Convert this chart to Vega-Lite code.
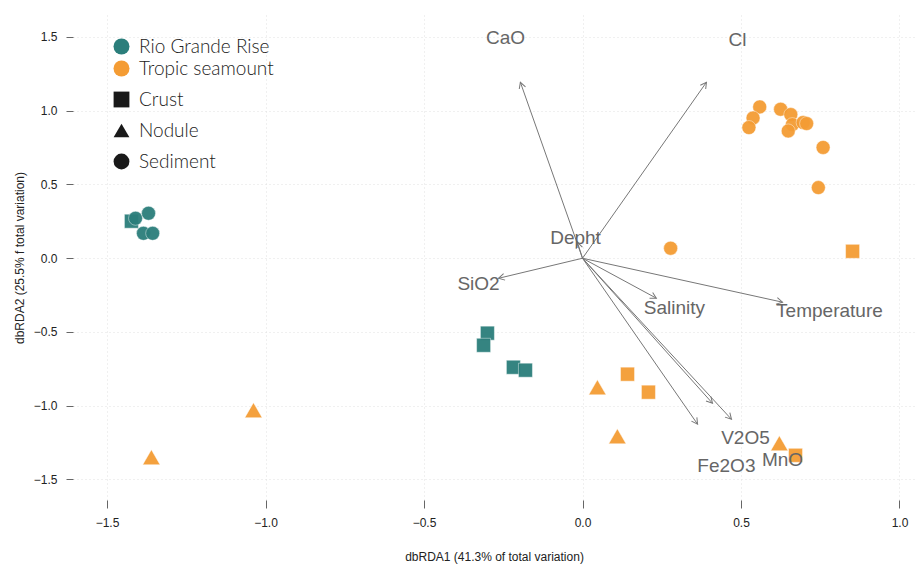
{
  "$schema": "https://vega.github.io/schema/vega-lite/v6.json",
  "autosize": "none",
  "width": 842,
  "height": 485,
  "padding": {"left": 73, "top": 15, "right": 6, "bottom": 66},
  "background": "white",
  "datasets": {
    "pts": [
      {"site": "Rio Grande Rise", "type": "Crust", "x": -1.423, "y": 0.251},
      {"site": "Rio Grande Rise", "type": "Sediment", "x": -1.410, "y": 0.271},
      {"site": "Rio Grande Rise", "type": "Sediment", "x": -1.369, "y": 0.305},
      {"site": "Rio Grande Rise", "type": "Sediment", "x": -1.385, "y": 0.169},
      {"site": "Rio Grande Rise", "type": "Sediment", "x": -1.356, "y": 0.169},
      {"site": "Rio Grande Rise", "type": "Crust", "x": -0.300, "y": -0.508},
      {"site": "Rio Grande Rise", "type": "Crust", "x": -0.312, "y": -0.590},
      {"site": "Rio Grande Rise", "type": "Crust", "x": -0.218, "y": -0.739},
      {"site": "Rio Grande Rise", "type": "Crust", "x": -0.180, "y": -0.759},
      {"site": "Tropic seamount", "type": "Nodule", "x": -1.038, "y": -1.030},
      {"site": "Tropic seamount", "type": "Nodule", "x": -1.360, "y": -1.349},
      {"site": "Tropic seamount", "type": "Nodule", "x": 0.047, "y": -0.875},
      {"site": "Tropic seamount", "type": "Nodule", "x": 0.110, "y": -1.207},
      {"site": "Tropic seamount", "type": "Nodule", "x": 0.621, "y": -1.254},
      {"site": "Tropic seamount", "type": "Crust", "x": 0.142, "y": -0.786},
      {"site": "Tropic seamount", "type": "Crust", "x": 0.208, "y": -0.908},
      {"site": "Tropic seamount", "type": "Crust", "x": 0.672, "y": -1.336},
      {"site": "Tropic seamount", "type": "Crust", "x": 0.852, "y": 0.047},
      {"site": "Tropic seamount", "type": "Sediment", "x": 0.278, "y": 0.068},
      {"site": "Tropic seamount", "type": "Sediment", "x": 0.559, "y": 1.026},
      {"site": "Tropic seamount", "type": "Sediment", "x": 0.538, "y": 0.951},
      {"site": "Tropic seamount", "type": "Sediment", "x": 0.525, "y": 0.886},
      {"site": "Tropic seamount", "type": "Sediment", "x": 0.625, "y": 1.010},
      {"site": "Tropic seamount", "type": "Sediment", "x": 0.657, "y": 0.974},
      {"site": "Tropic seamount", "type": "Sediment", "x": 0.662, "y": 0.906},
      {"site": "Tropic seamount", "type": "Sediment", "x": 0.649, "y": 0.863},
      {"site": "Tropic seamount", "type": "Sediment", "x": 0.696, "y": 0.920},
      {"site": "Tropic seamount", "type": "Sediment", "x": 0.707, "y": 0.913},
      {"site": "Tropic seamount", "type": "Sediment", "x": 0.759, "y": 0.751},
      {"site": "Tropic seamount", "type": "Sediment", "x": 0.744, "y": 0.479}
    ],
    "vecs": [
      {"var": "CaO", "x": -0.196, "y": 1.193, "lx": -0.243, "ly": 1.492},
      {"var": "Cl", "x": 0.391, "y": 1.193, "lx": 0.489, "ly": 1.478},
      {"var": "Depht", "x": -0.016, "y": 0.108, "lx": -0.022, "ly": 0.136},
      {"var": "SiO2", "x": -0.265, "y": -0.136, "lx": -0.328, "ly": -0.176},
      {"var": "Salinity", "x": 0.233, "y": -0.271, "lx": 0.290, "ly": -0.339},
      {"var": "Temperature", "x": 0.631, "y": -0.298, "lx": 0.779, "ly": -0.359},
      {"var": "Fe2O3", "x": 0.363, "y": -1.125, "lx": 0.454, "ly": -1.410},
      {"var": "V2O5", "x": 0.410, "y": -0.983, "lx": 0.514, "ly": -1.220},
      {"var": "MnO", "x": 0.470, "y": -1.092, "lx": 0.631, "ly": -1.369}
    ]
  },
  "layer": [
    {
      "data": {"name": "pts"},
      "transform": [{"filter": "datum.type != 'Nodule'"}],
      "mark": {"type": "point", "filled": true, "opacity": 0.95, "stroke": "white", "strokeOpacity": 0.45, "strokeWidth": 1, "size": 196},
      "encoding": {
        "x": {"field": "x", "type": "quantitative", "title": "dbRDA1 (41.3% of total variation)",
          "scale": {"domain": [-1.6073, 1.0489], "nice": false, "zero": false},
          "axis": {"values": [-1.5, -1, -0.5, 0, 0.5, 1], "format": ".1f"}},
        "y": {"field": "y", "type": "quantitative", "title": "dbRDA2 (25.5% f total variation)",
          "scale": {"domain": [-1.639, 1.649], "nice": false, "zero": false},
          "axis": {"values": [-1.5, -1, -0.5, 0, 0.5, 1, 1.5], "format": ".1f"}},
        "color": {"field": "site", "type": "nominal",
          "scale": {"domain": ["Rio Grande Rise", "Tropic seamount"], "range": ["#2B7E7B", "#F49C34"]},
          "legend": {"orient": "none", "legendX": 39, "legendY": 22, "title": null, "symbolType": "circle", "symbolSize": 256,
            "symbolStrokeWidth": 0, "symbolOpacity": 1, "labelFont": "Lato", "labelFontWeight": 300, "labelFontSize": 19, "labelColor": "#222",
            "rowPadding": 2, "labelOffset": 8, "padding": 0}},
        "shape": {"field": "type", "type": "nominal",
          "scale": {"domain": ["Crust", "Nodule", "Sediment"], "range": ["square", "triangle-up", "circle"]},
          "legend": {"orient": "none", "legendX": 39, "legendY": 75, "title": null, "symbolSize": 250,
            "symbolFillColor": "black", "symbolStrokeColor": "black", "symbolStrokeWidth": 0, "symbolOpacity": 1,
            "labelFont": "Lato", "labelFontWeight": 300, "labelFontSize": 19, "labelColor": "#222",
            "rowPadding": 11, "labelOffset": 8, "padding": 0}}
      }
    },
    {
      "data": {"name": "pts"},
      "transform": [{"filter": "datum.type == 'Nodule'"}],
      "mark": {"type": "point", "filled": true, "opacity": 0.95, "stroke": "white", "strokeOpacity": 0.45, "strokeWidth": 1, "size": 300},
      "encoding": {
        "x": {"field": "x", "type": "quantitative", "title": "dbRDA1 (41.3% of total variation)"},
        "y": {"field": "y", "type": "quantitative", "title": "dbRDA2 (25.5% f total variation)"},
        "color": {"field": "site", "type": "nominal"},
        "shape": {"field": "type", "type": "nominal"}
      }
    },
    {
      "mark": {"type": "rule", "color": "#333", "strokeDash": [4, 3], "strokeWidth": 1},
      "encoding": {"x": {"datum": 0}}
    },
    {
      "mark": {"type": "rule", "color": "#333", "strokeDash": [4, 3], "strokeWidth": 1},
      "encoding": {"y": {"datum": 0}}
    },
    {
      "mark": {"type": "rule", "color": "#888", "strokeWidth": 1.5},
      "encoding": {"x": {"datum": -1.5}, "x2": {"datum": 1.0}, "y": {"datum": -1.639}}
    },
    {
      "mark": {"type": "rule", "color": "#888", "strokeWidth": 1.5},
      "encoding": {"y": {"datum": -1.5}, "y2": {"datum": 1.5}, "x": {"datum": -1.6073}}
    },
    {
      "data": {"name": "vecs"},
      "mark": {"type": "rule", "color": "#777", "strokeWidth": 1},
      "encoding": {
        "x": {"field": "x", "type": "quantitative", "title": "dbRDA1 (41.3% of total variation)"},
        "y": {"field": "y", "type": "quantitative", "title": "dbRDA2 (25.5% f total variation)"},
        "x2": {"datum": 0},
        "y2": {"datum": 0}
      }
    },
    {
      "data": {"name": "vecs"},
      "transform": [{"calculate": "(atan2(datum.x * 317, datum.y * 147.5) * 180 / PI + 360) % 360", "as": "ang"}],
      "mark": {"type": "point", "shape": "M-0.55,1L0,0L0.55,1", "filled": false, "stroke": "#777", "strokeWidth": 1, "size": 144, "opacity": 1},
      "encoding": {
        "x": {"field": "x", "type": "quantitative", "title": "dbRDA1 (41.3% of total variation)"},
        "y": {"field": "y", "type": "quantitative", "title": "dbRDA2 (25.5% f total variation)"},
        "angle": {"field": "ang", "type": "quantitative", "scale": null}
      }
    },
    {
      "data": {"name": "vecs"},
      "mark": {"type": "text", "font": "Liberation Sans", "fontSize": 19, "color": "#666", "align": "center", "baseline": "middle"},
      "encoding": {
        "x": {"field": "lx", "type": "quantitative", "title": "dbRDA1 (41.3% of total variation)"},
        "y": {"field": "ly", "type": "quantitative", "title": "dbRDA2 (25.5% f total variation)"},
        "text": {"field": "var"}
      }
    }
  ],
  "config": {
    "view": {"stroke": null},
    "axisX": {
      "domain": false, "tickColor": "#666", "tickSize": 8, "tickWidth": 1,
      "labelFont": "Liberation Sans", "labelFontSize": 12, "labelColor": "#222", "labelPadding": 9,
      "grid": true, "gridColor": "#e0e0e0", "gridDash": [1, 3],
      "titleFont": "Liberation Sans", "titleFontSize": 12, "titleFontWeight": "normal", "titleColor": "#222", "titlePadding": 23
    },
    "axisY": {
      "domain": false, "tickColor": "#666", "tickSize": 7, "tickWidth": 1,
      "labelFont": "Liberation Sans", "labelFontSize": 12, "labelColor": "#222", "labelPadding": 9,
      "grid": true, "gridColor": "#e0e0e0", "gridDash": [1, 3],
      "titleFont": "Liberation Sans", "titleFontSize": 12, "titleFontWeight": "normal", "titleColor": "#222", "titlePadding": 7
    }
  }
}
